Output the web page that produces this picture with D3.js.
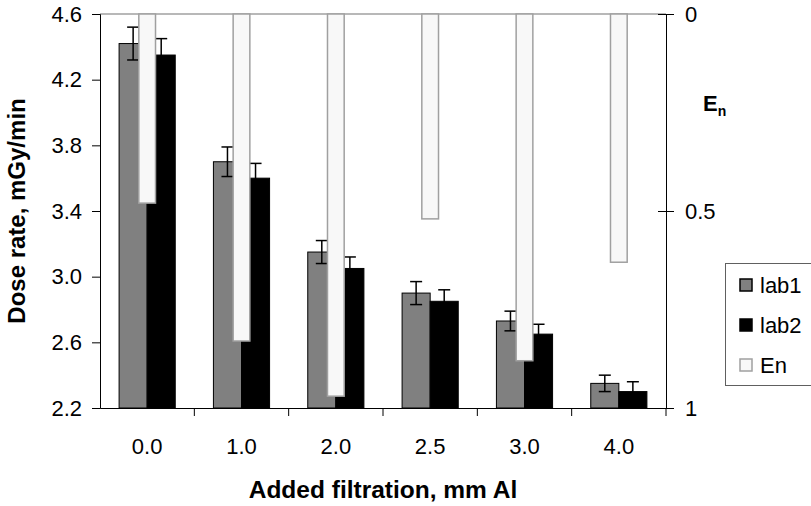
<!DOCTYPE html>
<html>
<head>
<meta charset="utf-8">
<script src="https://cdn.jsdelivr.net/npm/d3@7"></script>
<style>
  body { margin: 0; background: #fff; }
  svg { font-family: Arial, "Liberation Sans", sans-serif; }
</style>
</head>
<body>
<script>
const categories = ['0.0', '1.0', '2.0', '2.5', '3.0', '4.0'];
const lab1 = [4.42, 3.70, 3.15, 2.90, 2.73, 2.35];
const lab1Err = [0.10, 0.09, 0.07, 0.07, 0.06, 0.05];
const lab2 = [4.35, 3.60, 3.05, 2.85, 2.65, 2.30];
const lab2Err = [0.10, 0.09, 0.07, 0.07, 0.06, 0.06];
const en = [0.48, 0.83, 0.97, 0.52, 0.88, 0.63];
const doseTicks = [2.2, 2.6, 3.0, 3.4, 3.8, 4.2, 4.6];
const enTicks = [0, 0.5, 1];

const W = 811, H = 506;
const margin = { top: 14, right: 145, bottom: 98, left: 100 };
const width = W - margin.left - margin.right;   // 566
const height = H - margin.top - margin.bottom;  // 394

const rows = categories.map((c, i) => ({
    cat: c, lab1: lab1[i], lab1Err: lab1Err[i], lab2: lab2[i], lab2Err: lab2Err[i], en: en[i]
}));

const svg = d3.select('body').append('svg')
    .attr('width', W)
    .attr('height', H);

const g = svg.append('g')
    .attr('transform', `translate(${margin.left},${margin.top})`);

const x0 = d3.scaleBand().domain(categories).range([0, width]).padding(0);
const x1 = d3.scaleBand().domain(['lab1', 'lab2']).range([0, x0.bandwidth()]).paddingInner(0).paddingOuter(0.68);
const y = d3.scaleLinear().domain([2.2, 4.6]).range([height, 0]);
const y2 = d3.scaleLinear().domain([0, 1]).range([0, height]);
const enW = x0.bandwidth() * 0.177;

// top border of plot area
g.append('line')
    .attr('x1', 0).attr('x2', width)
    .attr('y1', 0).attr('y2', 0)
    .attr('stroke', '#a0a0a0')
    .attr('stroke-width', 1.5);

const series = [
    { key: 'lab1', err: 'lab1Err', fill: '#808080' },
    { key: 'lab2', err: 'lab2Err', fill: '#000000' }
];

// lab bars
series.forEach(s => {
    g.selectAll('.bar-' + s.key)
        .data(rows)
        .enter().append('rect')
        .attr('class', 'bar-' + s.key)
        .attr('x', d => x0(d.cat) + x1(s.key))
        .attr('width', x1.bandwidth())
        .attr('y', d => y(d[s.key]))
        .attr('height', d => height - y(d[s.key]))
        .attr('fill', s.fill)
        .attr('stroke', '#000')
        .attr('stroke-width', 1);
});

// error bars
const capW = 6;
series.forEach(s => {
    const eg = g.selectAll('.err-' + s.key)
        .data(rows)
        .enter().append('g')
        .attr('class', 'err-' + s.key)
        .attr('transform', d => `translate(${x0(d.cat) + x1(s.key) + x1.bandwidth() / 2},0)`)
        .attr('stroke', '#000')
        .attr('stroke-width', 1.5);
    eg.append('line')
        .attr('x1', 0).attr('x2', 0)
        .attr('y1', d => y(d[s.key] + d[s.err]))
        .attr('y2', d => y(d[s.key] - d[s.err]));
    eg.append('line')
        .attr('x1', -capW).attr('x2', capW)
        .attr('y1', d => y(d[s.key] + d[s.err]))
        .attr('y2', d => y(d[s.key] + d[s.err]));
    eg.append('line')
        .attr('x1', -capW).attr('x2', capW)
        .attr('y1', d => y(d[s.key] - d[s.err]))
        .attr('y2', d => y(d[s.key] - d[s.err]));
});

// En bars on secondary (reversed) axis
g.selectAll('.bar-en')
    .data(rows)
    .enter().append('rect')
    .attr('class', 'bar-en')
    .attr('x', d => x0(d.cat) + x0.bandwidth() / 2 - enW / 2)
    .attr('width', enW)
    .attr('y', y2(0))
    .attr('height', d => y2(d.en) - y2(0))
    .attr('fill', '#f8f8f8')
    .attr('stroke', '#a0a0a0')
    .attr('stroke-width', 1.5);

// left axis
const yAxis = g.append('g')
    .call(d3.axisLeft(y).tickValues(doseTicks).tickFormat(d3.format('.1f')).tickSize(8).tickPadding(10));
yAxis.selectAll('text').style('font-size', '22px').attr('fill', '#000');
yAxis.select('.domain').attr('stroke', '#000');

// bottom axis: labels centred on categories, ticks on boundaries
const xAxis = g.append('g')
    .attr('transform', `translate(0,${height})`)
    .call(d3.axisBottom(x0).tickSize(0).tickPadding(30));
xAxis.selectAll('text').style('font-size', '22px').attr('fill', '#000');
xAxis.select('.domain').attr('stroke', '#000');
xAxis.selectAll('.bound')
    .data(categories.slice(1).concat(['end']))
    .enter().append('line')
    .attr('class', 'bound')
    .attr('x1', (d, i) => (i + 1) * x0.step())
    .attr('x2', (d, i) => (i + 1) * x0.step())
    .attr('y1', 0).attr('y2', 8)
    .attr('stroke', '#000');

// right axis
const y2Axis = g.append('g')
    .attr('transform', `translate(${width},0)`)
    .call(d3.axisRight(y2).tickValues(enTicks).tickFormat(d3.format('~g')).tickSize(8).tickPadding(11));
y2Axis.selectAll('.tick line').attr('x1', -8);
y2Axis.selectAll('text').style('font-size', '22px').attr('fill', '#000');
y2Axis.select('.domain').attr('stroke', '#000');

// axis titles
svg.append('text')
    .attr('transform', `translate(25,${margin.top + height / 2}) rotate(-90)`)
    .attr('text-anchor', 'middle')
    .style('font-size', '24px')
    .style('font-weight', 'bold')
    .text('Dose rate, mGy/min');

svg.append('text')
    .attr('x', margin.left + width / 2)
    .attr('y', 498)
    .attr('text-anchor', 'middle')
    .style('font-size', '24.5px')
    .style('font-weight', 'bold')
    .text('Added filtration, mm Al');

const enLabel = svg.append('text')
    .attr('x', 703)
    .attr('y', 111)
    .style('font-size', '22px')
    .style('font-weight', 'bold');
enLabel.append('tspan').text('E');
enLabel.append('tspan').attr('dy', 5).style('font-size', '14px').text('n');

// legend
const legendData = [
    { key: 'lab1', fill: '#808080', stroke: '#000' },
    { key: 'lab2', fill: '#000000', stroke: '#000' },
    { key: 'En', fill: '#f8f8f8', stroke: '#a0a0a0' }
];
const legend = svg.append('g').attr('transform', 'translate(725,263)');
legend.append('rect')
    .attr('x', 0.5).attr('y', 0.5)
    .attr('width', 120).attr('height', 122)
    .attr('fill', '#fff')
    .attr('stroke', '#606060')
    .attr('stroke-width', 1);
const li = legend.selectAll('.li')
    .data(legendData)
    .enter().append('g')
    .attr('class', 'li')
    .attr('transform', (d, i) => `translate(0,${22 + i * 40})`);
li.append('rect')
    .attr('x', 15).attr('y', -6)
    .attr('width', 12).attr('height', 12)
    .attr('fill', d => d.fill)
    .attr('stroke', d => d.stroke)
    .attr('stroke-width', 1.5);
li.append('text')
    .attr('x', 35)
    .attr('dy', '0.35em')
    .style('font-size', '22px')
    .text(d => d.key);
</script>
</body>
</html>
